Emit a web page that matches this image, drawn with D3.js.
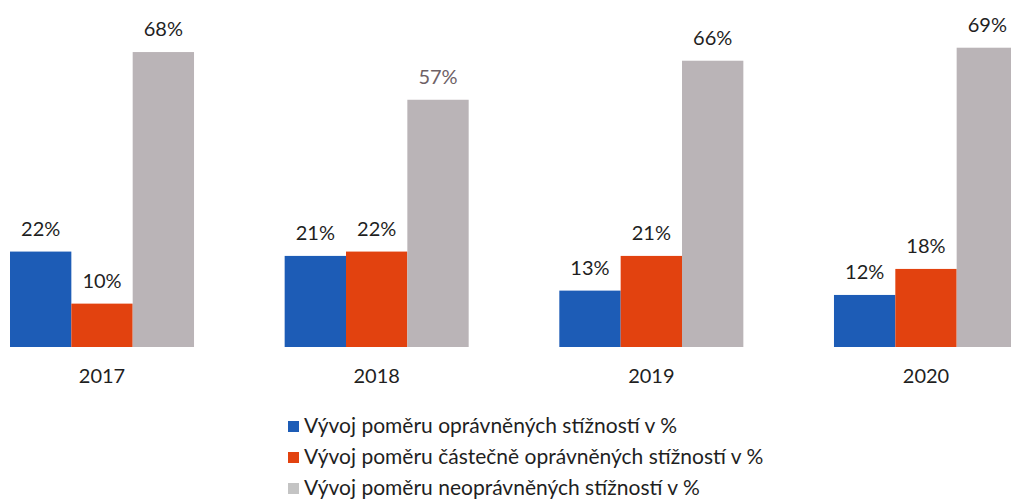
<!DOCTYPE html>
<html>
<head>
<meta charset="utf-8">
<script src="https://cdn.jsdelivr.net/npm/d3@7"></script>
<style>
  body { margin: 0; background: #fff; }
  svg text { font-family: Lato, "Open Sans", sans-serif; }
</style>
</head>
<body>
<div id="chart"></div>
<script>
// data
var years = ["2017", "2018", "2019", "2020"];
var seriesNames = [
    "Vývoj poměru oprávněných stížností v %",
    "Vývoj poměru částečně oprávněných stížností v %",
    "Vývoj poměru neoprávněných stížností v %"
];
var opravnene = [22, 21, 13, 12];
var castecne = [10, 22, 21, 18];
var neopravnene = [68, 57, 66, 69];

var seriesValues = [opravnene, castecne, neopravnene];
var colors = ["#1d5cb6", "#e2420f", "#bab4b7"];
var legendColors = ["#1d5cb6", "#e2420f", "#c4c4c4"];

var width = 1011, height = 499;

var svg = d3.select("#chart").append("svg")
    .attr("width", width)
    .attr("height", height);

// one group per year
var x0 = d3.scaleBand()
    .domain(years)
    .range([10, 1018])
    .paddingInner(0.33)
    .paddingOuter(0);

var x1 = d3.scaleBand()
    .domain(d3.range(seriesNames.length))
    .range([0, x0.bandwidth()])
    .padding(0);

var y = d3.scaleLinear()
    .domain([0, 80])
    .range([347, 0]);

var rows = years.map(function(yr, i){
    return { year: yr, vals: seriesValues.map(function(s, k){ return { k: k, v: s[i], year: yr }; }) };
});

var groups = svg.selectAll("g.year")
    .data(rows)
    .enter().append("g")
    .attr("class", "year")
    .attr("transform", function(d){ return "translate(" + x0(d.year) + ",0)"; });

groups.selectAll("rect")
    .data(function(d){ return d.vals; })
    .enter().append("rect")
    .attr("x", function(d){ return x1(d.k); })
    .attr("y", function(d){ return y(d.v); })
    .attr("width", x1.bandwidth())
    .attr("height", function(d){ return y(0) - y(d.v); })
    .attr("fill", function(d){ return colors[d.k]; });

groups.selectAll("text.val")
    .data(function(d){ return d.vals; })
    .enter().append("text")
    .attr("class", "val")
    .attr("x", function(d){ return x1(d.k) + x1.bandwidth() / 2; })
    .attr("y", function(d){ return y(d.v) - 16; })
    .attr("text-anchor", "middle")
    .attr("font-size", 20)
    .attr("fill", function(d){ return (d.year == "2018" && d.k == 2) ? "#6e6166" : "#1f1f1f"; })
    .text(function(d){ return d.v + "%"; });

// year labels under each group
var xAxis = svg.append("g")
    .attr("transform", "translate(0," + y(0) + ")")
    .call(d3.axisBottom(x0).tickSize(0).tickPadding(22));
xAxis.select(".domain").remove();
xAxis.selectAll("text")
    .attr("font-size", 20)
    .attr("fill", "#1f1f1f")
    .style("font-family", "Lato, 'Open Sans', sans-serif");

// legend
var legend = svg.append("g")
    .attr("transform", "translate(288,426)");

var li = legend.selectAll("g")
    .data(seriesNames)
    .enter().append("g")
    .attr("transform", function(d, i){ return "translate(0," + (i * 31) + ")"; });

li.append("rect")
    .attr("x", 0)
    .attr("y", -5)
    .attr("width", 11)
    .attr("height", 11)
    .attr("fill", function(d, i){ return legendColors[i]; });

li.append("text")
    .attr("x", 16)
    .attr("y", 0)
    .attr("dy", "0.35em")
    .attr("font-size", 21)
    .attr("fill", "#1f1f1f")
    .text(function(d){ return d; });
</script>
</body>
</html>
